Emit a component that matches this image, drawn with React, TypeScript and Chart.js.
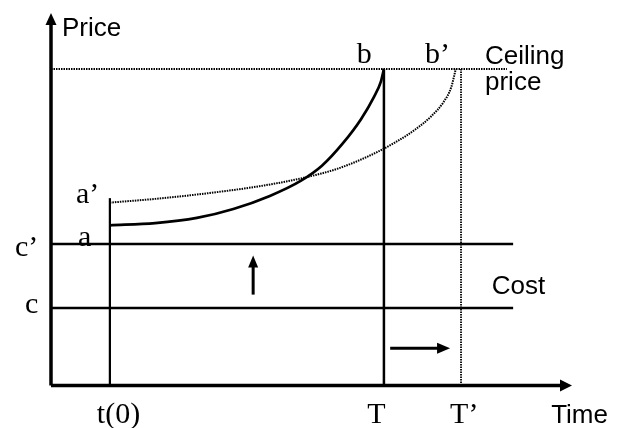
import React, { useEffect, useRef } from "react";
import { Chart, registerables } from "chart.js";

Chart.register(...registerables);

// Data (arbitrary units: time 0..100, price 0..100)
const ceilingPrice = 85;
const costLow = 20.8;
const costHigh = 38;
const tZero = 11.3;
const tEnd = 63.9;
const tEndPrime = 78.7;
const ceilingEnd = 87.5;
const costEnd = 88.7;
const tZeroTop = 50.3;

const pathTime = [11.3, 20, 28, 35, 42, 48, 52, 56, 59.5, 62, 63.3, 63.9];
const pathPrice = [43.0, 43.6, 45.0, 47.4, 50.9, 55.0, 59.0, 65.0, 71.5, 77.5, 81.5, 85.0];

const pathPrimeTime = [11.3, 20, 30, 40, 48, 55, 61, 66, 70, 73, 75.3, 76.8, 77.7];
const pathPrimePrice = [49.1, 50.1, 51.6, 53.5, 55.6, 58.2, 61.6, 65.2, 68.8, 72.3, 76.0, 80.0, 85.0];

const upArrowX = 38.8;
const upArrowFrom = 24.4;
const upArrowTo = 34.9;
const rightArrowY = 10.0;
const rightArrowFrom = 65.1;
const rightArrowTo = 76.6;

const axisMax = 100;

const xTickValues = [8.8, 60.7, 76.6];
const xTickLabels = ["t(0)", "T", "T\u2019"];

const serifLabels = ["a\u2019", "a", "c\u2019", "c", "b", "b\u2019"];
const serifLabelX = [4.8, 5.2, -6.9, -5.0, 58.7, 71.8];
const serifLabelY = [49.0, 37.4, 34.8, 19.5, 86.6, 86.6];

const sansLabels = ["Price", "Ceiling", "price", "Cost", "Time"];
const sansLabelX = [2.1, 83.3, 83.3, 84.6, 96.0];
const sansLabelY = [93.8, 86.3, 79.3, 24.6, -10.1];
const tickLabelY = -10.1;

const pts = (xs: number[], ys: number[]) => xs.map((x, i) => ({ x, y: ys[i] }));

const SERIF = "'Liberation Serif', 'DejaVu Serif', serif";
const SANS = "'Liberation Sans', Arial, sans-serif";

const overlayPlugin = {
  id: "overlay",
  afterDatasetsDraw(chart: any) {
    const { ctx, scales } = chart;
    const px = (v: number) => scales.x.getPixelForValue(v);
    const py = (v: number) => scales.y.getPixelForValue(v);
    ctx.save();
    ctx.fillStyle = "#000";

    const tri = (x1: number, y1: number, x2: number, y2: number, x3: number, y3: number) => {
      ctx.beginPath();
      ctx.moveTo(x1, y1);
      ctx.lineTo(x2, y2);
      ctx.lineTo(x3, y3);
      ctx.closePath();
      ctx.fill();
    };
    // y axis arrow
    const yx = px(0), yt = py(axisMax);
    tri(yx, yt, yx - 5.5, yt + 12, yx + 5.5, yt + 12);
    // x axis arrow
    const xt = px(axisMax), xy = py(0);
    tri(xt, xy, xt - 12, xy - 6, xt - 12, xy + 6);
    // up arrow head
    const ux = px(upArrowX), ut = py(upArrowTo);
    tri(ux, ut, ux - 5, ut + 12, ux + 5, ut + 12);
    // right arrow head
    const rt = px(rightArrowTo), ry = py(rightArrowY);
    tri(rt, ry, rt - 13, ry - 5.5, rt - 13, ry + 5.5);

    ctx.textAlign = "left";
    ctx.textBaseline = "alphabetic";
    ctx.font = `30px ${SERIF}`;
    serifLabels.forEach((t, i) => ctx.fillText(t, px(serifLabelX[i]), py(serifLabelY[i])));
    xTickLabels.forEach((t, i) => ctx.fillText(t, px(xTickValues[i]), py(tickLabelY)));
    ctx.font = `26px ${SANS}`;
    sansLabels.forEach((t, i) => ctx.fillText(t, px(sansLabelX[i]), py(sansLabelY[i])));
    ctx.restore();
  },
};

export default function App() {
  const ref = useRef<HTMLCanvasElement | null>(null);
  useEffect(() => {
    if (!ref.current) return;
    const solid = (data: any[], w = 2.5) => ({
      data,
      borderColor: "#000",
      borderWidth: w,
      pointRadius: 0,
      fill: false,
      clip: false,
      borderCapStyle: "butt",
    });
    const dotted = (data: any[], w = 2) => ({
      ...solid(data, w),
      borderDash: [1.5, 1],
    });
    const chart = new Chart(ref.current, {
      type: "line",
      data: {
        datasets: [
          solid([{ x: 0, y: 0 }, { x: 0, y: axisMax - 2 }], 3.5) as any,
          solid([{ x: 0, y: 0 }, { x: axisMax - 2, y: 0 }], 3.5),
          dotted([{ x: 0, y: ceilingPrice }, { x: ceilingEnd, y: ceilingPrice }]),
          solid([{ x: 0, y: costHigh }, { x: costEnd, y: costHigh }], 2.5),
          solid([{ x: 0, y: costLow }, { x: costEnd, y: costLow }], 2.5),
          solid([{ x: tZero, y: 0 }, { x: tZero, y: tZeroTop }], 2.2),
          solid([{ x: tEnd, y: 0 }, { x: tEnd, y: ceilingPrice }], 2.5),
          dotted([{ x: tEndPrime, y: 0 }, { x: tEndPrime, y: ceilingPrice }], 1.8),
          { ...solid(pts(pathTime, pathPrice), 2.7), cubicInterpolationMode: "monotone" },
          { ...dotted(pts(pathPrimeTime, pathPrimePrice), 2), cubicInterpolationMode: "monotone" },
          solid([{ x: upArrowX, y: upArrowFrom }, { x: upArrowX, y: upArrowTo - 2 }], 3),
          solid([{ x: rightArrowFrom, y: rightArrowY }, { x: rightArrowTo - 1.5, y: rightArrowY }], 3),
        ],
      },
      options: {
        responsive: false,
        animation: false,
        layout: { padding: { left: 51, right: 47, top: 13, bottom: 42.5 } },
        plugins: { legend: { display: false }, tooltip: { enabled: false } },
        scales: {
          x: { type: "linear", display: false, min: 0, max: axisMax },
          y: { type: "linear", display: false, min: 0, max: axisMax },
        },
        elements: { line: { tension: 0 } },
      } as any,
      plugins: [overlayPlugin],
    });
    return () => chart.destroy();
  }, []);
  return (
    <div style={{ position: "fixed", left: 0, top: 0, width: 619, height: 428, background: "#fff" }}>
      <canvas ref={ref} width={619} height={428} style={{ width: 619, height: 428 }} />
    </div>
  );
}
